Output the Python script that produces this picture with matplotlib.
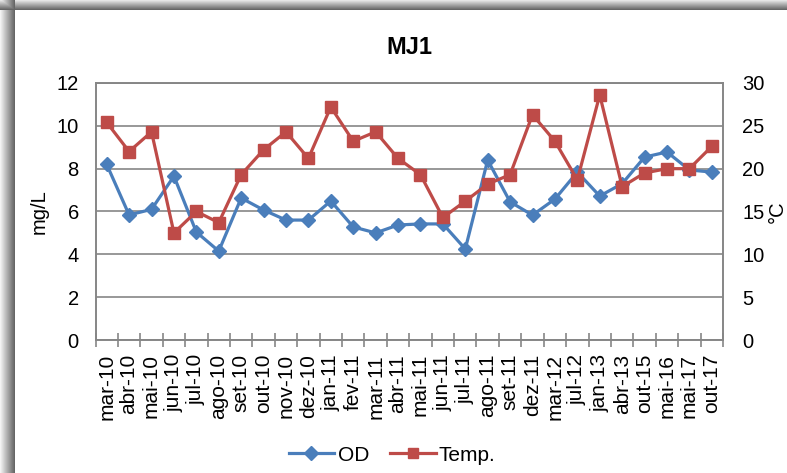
import matplotlib
matplotlib.use("Agg")
import matplotlib.pyplot as plt
from matplotlib.lines import Line2D
import numpy as np

plt.rcParams['font.family'] = ['Liberation Sans', 'DejaVu Sans']

categories = ["mar-10", "abr-10", "mai-10", "jun-10", "jul-10", "ago-10", "set-10",
              "out-10", "nov-10", "dez-10", "jan-11", "fev-11", "mar-11", "abr-11",
              "mai-11", "jun-11", "jul-11", "ago-11", "set-11", "dez-11", "mar-12",
              "jul-12", "jan-13", "abr-13", "out-15", "mai-16", "mai-17", "out-17"]
od = [8.2, 5.84, 6.1, 7.65, 5.04, 4.15, 6.63, 6.07, 5.6, 5.6, 6.49, 5.28, 5.0, 5.37,
      5.42, 5.42, 4.25, 8.4, 6.45, 5.83, 6.58, 7.84, 6.72, 7.3, 8.54, 8.78, 7.94, 7.84]
temp = [25.4, 22.0, 24.3, 12.5, 15.0, 13.7, 19.3, 22.2, 24.3, 21.2, 27.2, 23.2, 24.3, 21.2,
        19.3, 14.3, 16.2, 18.2, 19.3, 26.3, 23.2, 18.7, 28.6, 17.9, 19.5, 20.0, 20.0, 22.6]
left_ticks = [0, 2, 4, 6, 8, 10, 12]
right_ticks = [0, 5, 10, 15, 20, 25, 30]

W, H = 787, 473
fig = plt.figure(figsize=(W / 100, H / 100), dpi=100)

# background frame with shadow
bg = fig.add_axes([0, 0, 1, 1], zorder=-10)
bg.set_xlim(0, W)
bg.set_ylim(H, 0)
bg.axis('off')
img = np.ones((H, W))
for xx in range(15):
    img[:, xx] = np.minimum(img[:, xx], 0.95 - 0.55 * (xx / 14))
for yy in range(11):
    img[yy, :] = np.minimum(img[yy, :], 0.95 - 0.55 * (yy / 10))
bg.imshow(img, cmap='gray', vmin=0, vmax=1, extent=(0, W, H, 0), aspect='auto',
          interpolation='nearest')

ax = fig.add_axes([95.5 / W, 1 - 340 / H, (723 - 95.5) / W, (340 - 83) / H])
ax2 = ax.twinx()

x = np.arange(len(categories))
blue = '#4A7EBB'
red = '#BE4B48'
grid_c = '#868686'

ax.plot(x, od, color=blue, lw=2.3, marker='D', ms=7.5, zorder=3)
ax2.plot(x, temp, color=red, lw=2.3, marker='s', ms=8, zorder=3)

ax.set_xlim(-0.5, len(categories) - 0.5)
ax.set_ylim(0, 12)
ax2.set_ylim(0, 30)
ax.set_yticks(left_ticks)
ax2.set_yticks(right_ticks)
ax.grid(axis='y', color=grid_c, lw=1.2)
ax.set_axisbelow(True)

ax.set_xticks(x)
ax.set_xticklabels(categories, rotation=90, fontsize=15)
ax.set_xticks(np.arange(-0.5, len(categories), 1), minor=True)
ax.tick_params(axis='x', which='major', length=0, pad=10)
ax.tick_params(axis='x', which='minor', direction='inout', length=10, color=grid_c, width=1.2)
ax.tick_params(axis='y', length=0, labelsize=14.5, pad=12)
ax2.tick_params(axis='y', length=0, labelsize=14.5, pad=14)

for a in (ax, ax2):
    for s in a.spines.values():
        s.set_color(grid_c)
        s.set_linewidth(1.2)

ax.set_ylabel('mg/L', fontsize=14.5, labelpad=6)
ax2.set_ylabel('°C', fontsize=14.5, rotation=90, labelpad=2)

fig.text(409 / W, 1 - 48 / H, 'MJ1', fontsize=17, fontweight='bold', ha='center', va='center')

handles = [Line2D([], [], color=blue, lw=2.3, marker='D', ms=7),
           Line2D([], [], color=red, lw=2.3, marker='s', ms=7.5)]
fig.legend(handles, ['OD', 'Temp.'], loc='center', bbox_to_anchor=(392 / W, 1 - 455 / H),
           ncol=2, frameon=False, fontsize=15, handlelength=2.2, handletextpad=0.15,
           columnspacing=1.0)

fig.savefig('out.png', dpi=100)
